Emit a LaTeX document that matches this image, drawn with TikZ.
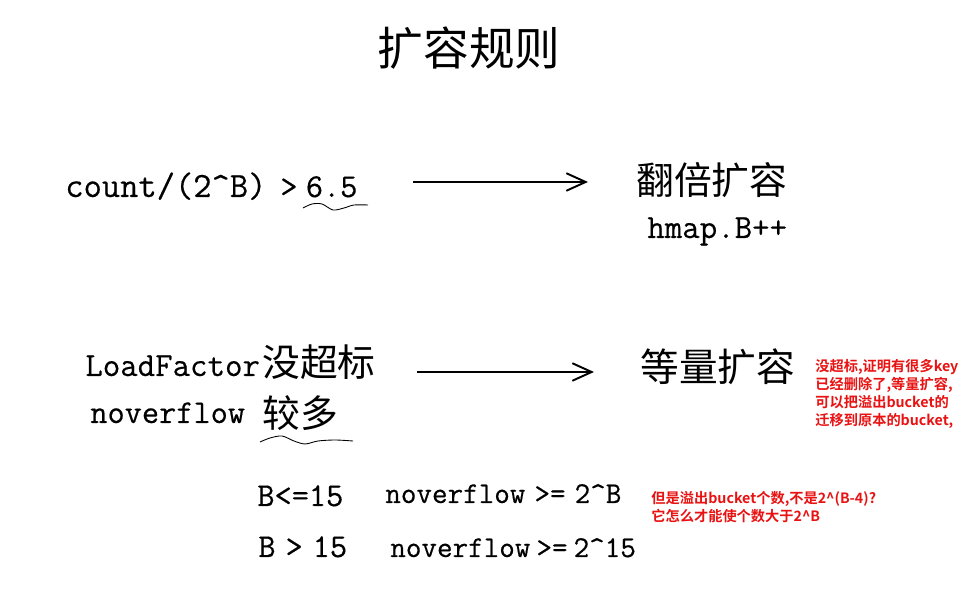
\documentclass[tikz,border=0pt]{standalone}
\usepackage{fontspec}
\usepackage{tikz}
\usetikzlibrary{arrows.meta}
\newfontfamily\codefont{Latin Modern Mono}[FakeBold=0.4]
\newfontfamily\cjk{Noto Sans CJK SC}
\newfontfamily\cjkbold{Noto Sans CJK SC Bold}
\definecolor{notered}{RGB}{232,18,18}
\newcommand{\caret}{\textasciicircum}

\begin{document}
\begin{tikzpicture}[x=0.02cm,y=-0.02cm,
    code/.style={font=\codefont\fontsize{19}{22}\selectfont, inner sep=0pt, anchor=base west},
    smallcode/.style={code, font=\codefont\fontsize{17.2}{20}\selectfont},
    hanzi/.style={font=\cjk\fontsize{21.5}{25}\selectfont, inner sep=0pt, anchor=west},
    note/.style={font=\cjkbold\fontsize{8.1}{10.2}\selectfont, text=notered, inner sep=0pt, anchor=north west, align=left},
    flow/.style={line width=1.1pt, -{Straight Barb[length=11pt,width=10pt,line width=1.1pt]}},
    wave/.style={line width=0.5pt}]
    \useasboundingbox (0,0) rectangle (964,597);

    \node[font=\cjk\fontsize{26}{30}\selectfont, inner sep=0pt] (title) at (469,48) {扩容规则};

    % first rule
    \node[code, font=\codefont\fontsize{20.2}{22}\selectfont] (cnt) at (65,197) {count/(2\caret B)};
    \node[code] (gt) at (280,197) {>\hspace{0.25em}6.5};
    \draw[wave] plot[smooth] coordinates {(303,208) (312,204) (322,204) (333,210) (344,208) (354,205) (368,205)};
    \coordinate (a1s) at (413,182);
    \coordinate (a1e) at (588,182);
    \draw[flow] (a1s) -- (a1e);
    \node[hanzi] (dbl) at (636,180) {翻倍扩容};
    \node[code, font=\codefont\fontsize{19.3}{22}\selectfont] (inc) at (647,238) {hmap.B++};

    % second rule
    \node[code, font=\codefont\fontsize{19.3}{22}\selectfont] (lf) at (85,376) {LoadFactor};
    \node[hanzi] (lfok) at (262,362) {没超标};
    \node[code] (ovf) at (90,423) {noverflow};
    \node[hanzi] (many) at (262,413) {较多};
    \draw[wave] plot[smooth] coordinates {(260,442) (270,438) (282,436) (294,441) (305,444) (318,441) (335,440) (353,441)};
    \coordinate (a2s) at (417,372);
    \coordinate (a2e) at (594,372);
    \draw[flow] (a2s) -- (a2e);
    \node[hanzi, font=\cjk\fontsize{22}{26}\selectfont] (same) at (640,367) {等量扩容};

    \node[note] (why) at (815,359) {没超标,证明有很多key\\已经删除了,等量扩容,\\可以把溢出bucket的\\迁移到原本的bucket,};

    % thresholds
    \node[code] (blow) at (257,506) {B<=15};
    \node[smallcode] (ovlow) at (385,503) {noverflow\hspace{0.3em}>=\hspace{0.3em}2\caret B};
    \node[code] (bhigh) at (258,557) {B\hspace{0.3em}>\hspace{0.3em}15};
    \node[smallcode] (ovhigh) at (390,557) {noverflow\hspace{0.2em}>=\hspace{0.2em}2\caret 15};

    \node[note] (ask) at (651,491) {但是溢出bucket个数,不是2\caret(B-4)?\\它怎么才能使个数大于2\caret B};
\end{tikzpicture}
\end{document}
